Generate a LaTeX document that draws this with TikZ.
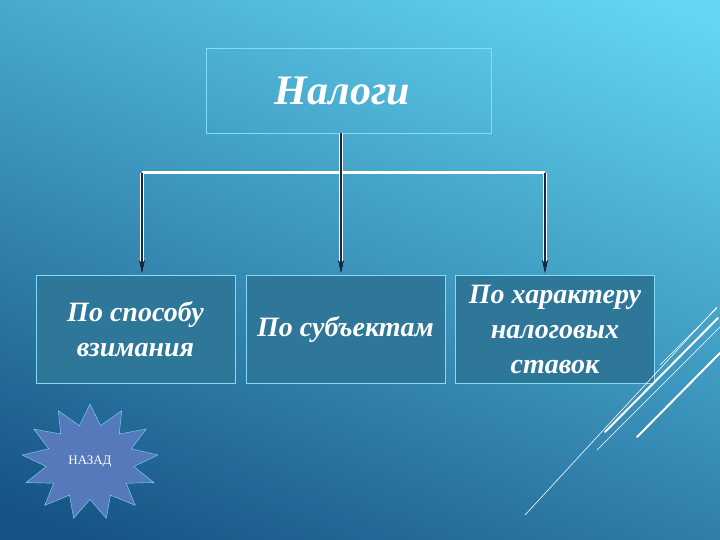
\documentclass[tikz,border=0pt]{standalone}
\usepackage{fontspec}
\setmainfont{Liberation Serif}
\usetikzlibrary{shapes.geometric,arrows.meta}
\definecolor{bgtop}{HTML}{62D6F2}
\definecolor{bgbot}{HTML}{165285}
\definecolor{frame}{HTML}{7FDDF5}
\definecolor{boxfill}{HTML}{2E7799}
\definecolor{navy}{HTML}{0F2A4A}
\definecolor{starfill}{HTML}{5579BA}
\tikzset{
  catbox/.style={draw=frame, line width=0.8pt, fill=boxfill, minimum width=199pt, minimum height=108pt, text=white, font=\itshape\fontsize{28}{35}\selectfont, align=center, inner sep=0pt},
  topbox/.style={draw=frame, line width=0.8pt, minimum width=285pt, minimum height=85pt, text=white, font=\itshape\fontsize{42}{46}\selectfont},
  core/.style={navy, line width=2pt},
  tip/.style={-{Stealth[length=16pt,width=7pt]}},
  deco/.style={white, line cap=round}
}
\begin{document}
\begin{tikzpicture}[x=1pt,y=-1pt]
\useasboundingbox (0,0) rectangle (720,540);
\shade[top color=bgtop, bottom color=bgbot, shading angle=-22] (-60,-60) rectangle (780,600);
\node[topbox] (top) at (348.5,90.5) {\textbf{Налоги}\hspace*{12pt}};
\node[catbox] (a) at (135.5,329) {\textbf{По способу}\\\textbf{взимания}};
\node[catbox] (b) at (345.5,329) {\textbf{По субъектам}};
\node[catbox] (c) at (555,329) {\textbf{По характеру}\\\textbf{налоговых}\\\textbf{ставок}};
\coordinate (ha) at (142,173);
\coordinate (hb) at (341,173);
\coordinate (hc) at (545,173);
\draw[white, line width=3pt] (ha) -- (hc);
\foreach \s/\t in {ha/a, hc/c}{
  \draw[white, line width=4pt, tip] (\s) -- (\s |- \t.north);
  \draw[core, tip] (\s) -- (\s |- \t.north);
}
\draw[white, line width=4pt, tip] (top.south -| hb) -- (b.north -| hb);
\draw[core, tip] (top.south -| hb) -- (b.north -| hb);
\node[star, star points=13, star point ratio=1.55, draw=frame, fill=starfill, minimum size=122pt, inner sep=0pt, xscale=1.12, yscale=0.95] (back) at (90,462) {};
\node[text=white, font=\fontsize{13}{15}\selectfont] (backt) at (back.center) {НАЗАД};
\draw[deco, line width=0.6pt] (525,515) -- (717,307);
\draw[deco, line width=2pt] (605,432) -- (718,318);
\draw[deco, line width=2pt] (637,437) -- (720,353);
\draw[deco, line width=0.6pt] (597,450) -- (720,327);
\draw[deco, line width=0.6pt] (660,365) -- (717,308);
\end{tikzpicture}
\end{document}
